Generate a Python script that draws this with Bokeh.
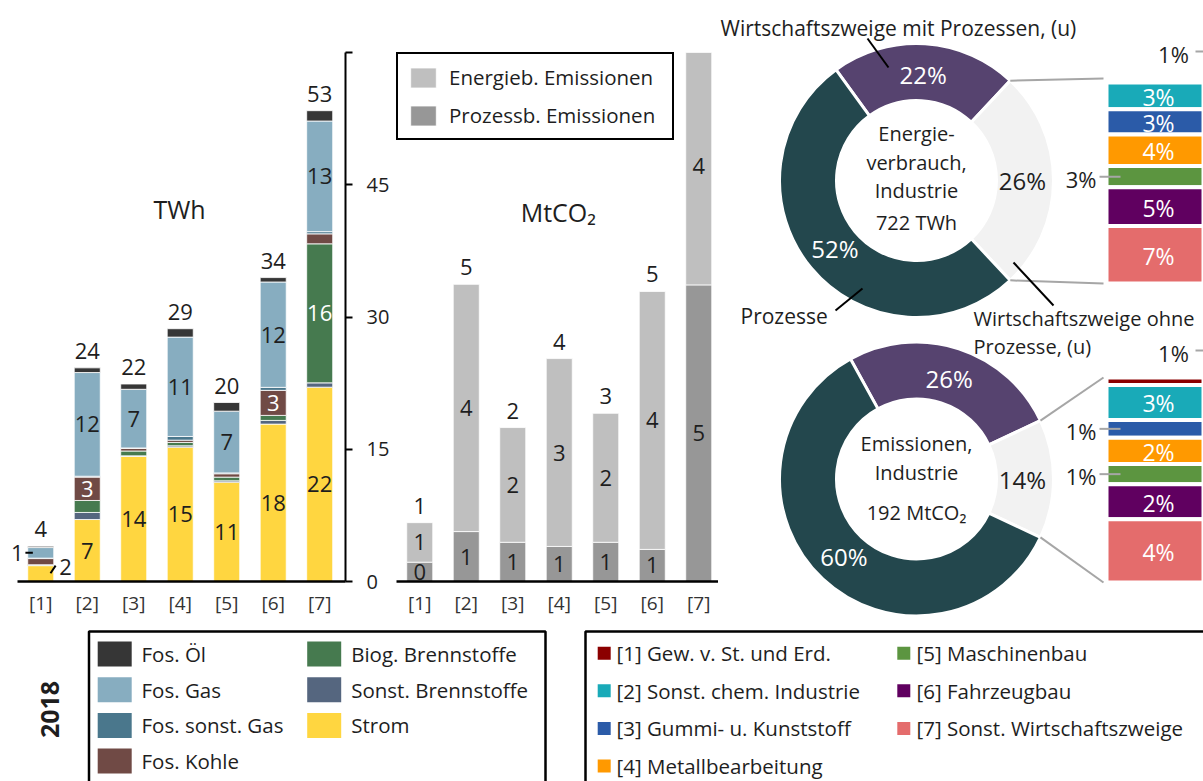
import numpy as np
from bokeh.plotting import figure
from bokeh.models import Range1d, FixedTicker, ColumnDataSource, Legend, LegendItem
from bokeh.layouts import row, column
from bokeh.embed import file_html
from bokeh.resources import INLINE
from bokeh.core.properties import value

FONT = "Open Sans"
TXT = "#1e1e1e"

# ---------------- data ----------------
branch_ticks = ["[1]", "[2]", "[3]", "[4]", "[5]", "[6]", "[7]"]

# Energy use per branch and carrier (TWh), stacked bottom -> top
strom = [1.8, 7.03, 14.2, 15.24, 11.27, 17.85, 22.04]
sonst_brennstoffe = [0.05, 0.8, 0.05, 0.15, 0.15, 0.42, 0.49]
biog_brennstoffe = [0.05, 1.36, 0.55, 0.38, 0.42, 0.57, 15.77]
fos_kohle = [0.7, 2.65, 0.3, 0.26, 0.38, 2.84, 1.13]
fos_sonst_gas = [0.05, 0.1, 0.05, 0.42, 0.1, 0.34, 0.25]
fos_gas = [1.2, 11.76, 6.65, 11.27, 7.0, 11.95, 12.55]
fos_oel = [0.15, 0.53, 0.6, 0.95, 0.98, 0.5, 1.17]

carrier_names = ["Strom", "Sonst. Brennstoffe", "Biog. Brennstoffe", "Fos. Kohle",
                 "Fos. sonst. Gas", "Fos. Gas", "Fos. Öl"]
carrier_values = [strom, sonst_brennstoffe, biog_brennstoffe, fos_kohle,
                  fos_sonst_gas, fos_gas, fos_oel]
carrier_legend_order = ["Fos. Öl", "Fos. Gas", "Fos. sonst. Gas", "Fos. Kohle",
                        "Biog. Brennstoffe", "Sonst. Brennstoffe", "Strom"]

# Emissions per branch (MtCO2)
prozess_emissionen = [0.325, 0.84, 0.66, 0.59, 0.66, 0.54, 4.99]
energie_emissionen = [0.665, 4.16, 1.93, 3.16, 2.17, 4.34, 4.0]
emission_total_labels = ["1", "5", "2", "4", "3", "5", "9"]

# Donuts: [mit Prozessen, ohne Prozesse, Prozesse]
donut_parts = ["Wirtschaftszweige mit Prozessen", "Wirtschaftszweige ohne Prozesse", "Prozesse"]
energy_shares = [22, 26, 52]
emission_shares = [26, 14, 60]

branch_names = ["[1] Gew. v. St. und Erd.", "[2] Sonst. chem. Industrie",
                "[3] Gummi- u. Kunststoff", "[4] Metallbearbeitung",
                "[5] Maschinenbau", "[6] Fahrzeugbau", "[7] Sonst. Wirtschaftszweige"]
energy_branch_shares = [0.5, 3.4, 3.2, 4.0, 2.7, 4.9, 7.3]
energy_branch_labels = ["1%", "3%", "3%", "4%", "3%", "5%", "7%"]
emission_branch_shares = [0.51, 2.39, 1.22, 1.8, 1.37, 2.39, 4.33]
emission_branch_labels = ["1%", "3%", "1%", "2%", "1%", "2%", "4%"]

# ---------------- styles ----------------
carrier_colors = ["#FFD640", "#55667F", "#467A4F", "#704A45", "#4A778C", "#87ADC0", "#363636"]
carrier_label_colors = [TXT, "white", "white", "white", "white", TXT, "white"]
co2_colors = {"energy": "#BFBFBF", "process": "#979797"}
donut_colors = ["#56436F", "#F2F2F2", "#23474D"]
donut_label_colors = ["white", TXT, "white"]
branch_colors = ["#8B0000", "#19AAB8", "#2B5BA8", "#FF9900", "#5C9540", "#600060", "#E46C6C"]
GREY_LINE = "#A6A6A6"
LEG_SIZE = 20.5
ANN_SIZE = 21

H_TOP = 622
xs = list(range(1, 8))
BAR_W = 0.56


def add_text(fig, x, y, texts, size, color=TXT, align="center", baseline="middle",
             x_offset=0, y_offset=0, style="normal", angle=0.0, y_range_name="default"):
    n = len(texts)
    cols = [color] * n if isinstance(color, str) else list(color)
    src = ColumnDataSource(dict(x=list(x), y=list(y), t=list(texts), c=cols))
    fig.text(x="x", y="y", text="t", source=src, text_color="c",
             text_font=value(FONT), text_font_size=f"{size}px", text_font_style=style,
             text_align=align, text_baseline=baseline, x_offset=x_offset,
             y_offset=y_offset, angle=angle, y_range_name=y_range_name)


def clean(fig):
    fig.xgrid.visible = False
    fig.ygrid.visible = False
    fig.outline_line_color = None
    fig.background_fill_color = "white"
    fig.border_fill_color = "white"
    fig.frame_align = False


def style_xaxis(ax, bounds):
    ax.ticker = FixedTicker(ticks=xs)
    ax.major_label_overrides = {i: t for i, t in zip(xs, branch_ticks)}
    ax.major_tick_in = 0
    ax.major_tick_out = 0
    ax.minor_tick_in = 0
    ax.minor_tick_out = 0
    ax.axis_line_color = "black"
    ax.axis_line_width = 2.5
    ax.bounds = bounds
    ax.major_label_text_font = FONT
    ax.major_label_text_font_size = "19px"
    ax.major_label_text_color = "#333333"
    ax.major_label_standoff = 8


# ---------------- Figure A: TWh ----------------
PX_A = 46.49
fa = figure(width=396, height=H_TOP, output_backend="svg", toolbar_location=None,
            x_range=Range1d(0.5 - 17 / PX_A, 7.555), y_range=Range1d(0, 60),
            y_axis_location="right",
            min_border_left=0, min_border_right=51, min_border_top=52, min_border_bottom=41)
clean(fa)
src_a = ColumnDataSource(dict(x=xs, **{f"c{i}": v for i, v in enumerate(carrier_values)}))
fa.vbar_stack([f"c{i}" for i in range(len(carrier_values))], x="x", width=BAR_W,
              fill_color=carrier_colors, line_color="white", line_width=0.8, source=src_a)
style_xaxis(fa.xaxis[0], (0.5, 7.555))
ya = fa.yaxis[0]
ya.ticker = FixedTicker(ticks=[0, 15, 30, 45, 60])
ya.major_label_overrides = {60: ""}
ya.major_tick_in = 0
ya.major_tick_out = 7
ya.major_tick_line_width = 2
ya.minor_tick_in = 0
ya.minor_tick_out = 0
ya.axis_line_width = 2
ya.axis_line_color = "black"
ya.major_tick_line_color = "black"
ya.major_label_text_font = FONT
ya.major_label_text_font_size = "20px"
ya.major_label_text_color = TXT
ya.major_label_standoff = 14

arr = np.array(carrier_values)
tops = np.cumsum(arr, axis=0)
mids = tops - arr / 2
lx, ly, lt, lc = [], [], [], []
for c in range(arr.shape[0]):
    for b in range(arr.shape[1]):
        if arr[c, b] >= 2.5:
            lx.append(xs[b]); ly.append(mids[c, b]); lt.append(str(int(round(arr[c, b]))))
            lc.append(carrier_label_colors[c])
add_text(fa, lx, ly, lt, 22, color=lc)
totals = tops[-1]
add_text(fa, xs, totals, [str(int(round(t))) for t in totals], 22, y_offset=-17)
# call-outs for the small first bar
gi, si = carrier_names.index("Fos. Gas"), carrier_names.index("Strom")
add_text(fa, [xs[0] - 0.37], [mids[gi, 0]], [str(int(round(arr[gi, 0])))], 22, align="right")
fa.segment(x0=[xs[0] - 0.33], y0=[mids[gi, 0]], x1=[xs[0] - 0.17], y1=[mids[gi, 0]],
           line_color="black", line_width=2)
add_text(fa, [xs[0] + 0.40], [tops[si, 0] - 0.2], [str(int(round(arr[si, 0])))], 22, align="left")
fa.segment(x0=[xs[0] + 0.21], y0=[tops[si, 0] * 0.52], x1=[xs[0] + 0.32], y1=[tops[si, 0]],
           line_color="black", line_width=2)
add_text(fa, [3.985], [42.3], ["TWh"], 25)

# ---------------- Figure B: MtCO2 ----------------
fb = figure(width=322, height=H_TOP, output_backend="svg", toolbar_location=None,
            x_range=Range1d(0.5, 7.425), y_range=Range1d(0, 8.9), y_axis_location=None,
            min_border_left=0, min_border_right=0, min_border_top=52, min_border_bottom=41)
clean(fb)
proc = np.array(prozess_emissionen)
ener = np.array(energie_emissionen)
tot = proc + ener
r_proc = fb.vbar(x=xs, width=BAR_W, bottom=0, top=proc, fill_color=co2_colors["process"],
                 line_color="white", line_width=0.8)
r_en = fb.vbar(x=xs, width=BAR_W, bottom=proc, top=tot, fill_color=co2_colors["energy"],
               line_color="white", line_width=0.8)
style_xaxis(fb.xaxis[0], (0.5, 7.425))
add_text(fb, xs, proc / 2, [str(int(round(v))) for v in proc], 22)
add_text(fb, xs, proc + ener / 2, [str(int(round(v))) for v in ener], 22)
vis = [i for i in range(7) if tot[i] < fb.y_range.end]
add_text(fb, [xs[i] for i in vis], [tot[i] for i in vis], [emission_total_labels[i] for i in vis],
         22, y_offset=-17)
add_text(fb, [3.98], [6.21], ["MtCO₂"], 25)
leg = Legend(items=[LegendItem(label="Energieb. Emissionen", renderers=[r_en]),
                    LegendItem(label="Prozessb. Emissionen", renderers=[r_proc])],
             location="top_left", margin=0, padding=9, spacing=10,
             glyph_width=32, glyph_height=25, label_standoff=10, label_height=25,
             label_width=214,
             label_text_font=FONT, label_text_font_size=f"{LEG_SIZE}px", label_text_color=TXT,
             border_line_color="black", border_line_width=2, border_line_alpha=1.0,
             background_fill_alpha=1)
fb.add_layout(leg)

# ---------------- Figure C: donuts ----------------
W_C = 485
X0 = 718
fc = figure(width=W_C, height=H_TOP, output_backend="svg", toolbar_location=None,
            x_range=Range1d(X0, X0 + W_C), y_range=Range1d(0, H_TOP),
            x_axis_location=None, y_axis_location=None, min_border=0)
clean(fc)


def yc(py):
    return H_TOP - py


R_IN, R_OUT = 80, 137
COL_X, COL_W = 1159, 106
donuts = [
    dict(shares=energy_shares, cx=916, cy=180,
         center=[("Energie-", 133), ("verbrauch,", 162), ("Industrie", 190), ("722 TWh", 222)],
         col_top=78, col_bot=283, bshares=energy_branch_shares, blabels=energy_branch_labels,
         rname="col_energy"),
    dict(shares=emission_shares, cx=916, cy=478.5,
         center=[("Emissionen,", 443), ("Industrie", 472), ("192 MtCO₂", 512)],
         col_top=377, col_bot=582, bshares=emission_branch_shares, blabels=emission_branch_labels,
         rname="col_emission"),
]
extra = {}
for d in donuts:
    T = sum(d["bshares"])
    fb_ = (H_TOP - d["col_bot"]) / H_TOP
    ft_ = (H_TOP - d["col_top"]) / H_TOP
    span = T / (ft_ - fb_)
    start = -fb_ * span
    extra[d["rname"]] = Range1d(start, start + span)
fc.extra_y_ranges = extra

for d in donuts:
    sh = np.array(d["shares"], dtype=float)
    deg = sh / sh.sum() * 360.0
    a0 = deg[1] / 2 + deg[0]
    ends = a0 - np.concatenate([[0], np.cumsum(deg)[:-1]])
    starts = ends - deg
    cx, cy = d["cx"], yc(d["cy"])
    fc.annular_wedge(x=[cx] * 3, y=[cy] * 3, inner_radius=R_IN, outer_radius=R_OUT,
                     start_angle=np.radians(starts), end_angle=np.radians(ends),
                     fill_color=donut_colors, line_color="white", line_width=3)
    mid = np.radians((starts + ends) / 2)
    add_text(fc, cx + 106 * np.cos(mid), cy + 106 * np.sin(mid),
             [f"{int(s)}%" for s in d["shares"]], 24, color=donut_label_colors)
    add_text(fc, [cx] * len(d["center"]), [yc(p) for _, p in d["center"]],
             [t for t, _ in d["center"]], 20)
    # connectors from grey segment to column
    g0, g1 = np.radians(starts[1]), np.radians(ends[1])
    fc.segment(x0=[cx + R_OUT * np.cos(g1), cx + R_OUT * np.cos(g0)],
               y0=[cy + R_OUT * np.sin(g1), cy + R_OUT * np.sin(g0)],
               x1=[1103, 1103], y1=[yc(d["col_top"]), yc(d["col_bot"])],
               line_color=GREY_LINE, line_width=2)
    # column of branches
    bs = np.array(d["bshares"], dtype=float)
    T = bs.sum()
    btops = T - np.concatenate([[0], np.cumsum(bs)[:-1]])
    bbots = btops - bs
    bmids = (btops + bbots) / 2
    ppu = (d["col_bot"] - d["col_top"]) / T
    fc.vbar(x=[COL_X] * len(bs), width=COL_W, bottom=bbots, top=btops,
            fill_color=branch_colors, line_color="white", line_width=4, y_range_name=d["rname"])
    ins = [i for i in range(1, len(bs)) if bs[i] * ppu >= 23]
    outs = [i for i in range(1, len(bs)) if bs[i] * ppu < 23]
    add_text(fc, [1158] * len(ins), [bmids[i] for i in ins], [d["blabels"][i] for i in ins],
             23, color="white", y_offset=1, y_range_name=d["rname"])
    add_text(fc, [1096] * len(outs), [bmids[i] for i in outs], [d["blabels"][i] for i in outs],
             22, align="right", y_offset=2, y_range_name=d["rname"])
    fc.segment(x0=[1099] * len(outs), y0=[bmids[i] for i in outs], x1=[1120] * len(outs),
               y1=[bmids[i] for i in outs], line_color=GREY_LINE, line_width=2,
               y_range_name=d["rname"])
    add_text(fc, [1173], [T], [d["blabels"][0]], 22, y_offset=-25, y_range_name=d["rname"])
    fc.segment(x0=[1195], y0=[T + 27 / ppu], x1=[1212], y1=[T + 27 / ppu],
               line_color=GREY_LINE, line_width=2, y_range_name=d["rname"])

# annotations
add_text(fc, [720], [yc(27)], ["Wirtschaftszweige mit Prozessen, (u)"], ANN_SIZE, align="left")
add_text(fc, [740], [yc(315)], ["Prozesse"], ANN_SIZE, align="left")
add_text(fc, [973, 973], [yc(318), yc(346)], ["Wirtschaftszweige ohne", "Prozesse, (u)"],
         20, align="left")
fc.segment(x0=[867, 835, 1013], y0=[yc(38), yc(310), yc(262)],
           x1=[888, 862, 1053], y1=[yc(67), yc(288), yc(305)], line_color="black", line_width=2)

# ---------------- Figure D: legends ----------------
H_D = 781 - H_TOP
fd = figure(width=1203, height=H_D, output_backend="svg", toolbar_location=None,
            x_range=Range1d(0, 1203), y_range=Range1d(0, H_D),
            x_axis_location=None, y_axis_location=None, min_border=0)
clean(fd)


def yd(py):
    return 781 - py


fd.quad(left=[88.5, 585], right=[545, 1220], top=[yd(631)] * 2, bottom=[yd(800)] * 2,
        fill_color=None, line_color="black", line_width=2.5)
add_text(fd, [49], [yd(709)], ["2018"], 25, style="bold", angle=np.pi / 2)

lcol = [carrier_colors[carrier_names.index(n)] for n in carrier_legend_order]
sx = [114.2 if i < 4 else 323.7 for i in range(len(carrier_legend_order))]
sy = [yd(653.5 + (i % 4) * 35.7) for i in range(len(carrier_legend_order))]
fd.rect(x=sx, y=sy, width=34, height=25, fill_color=lcol, line_color=None)
add_text(fd, [141 if i < 4 else 350.7 for i in range(len(carrier_legend_order))], sy,
         carrier_legend_order, LEG_SIZE, align="left")

bx = [603.7 if i < 4 else 903.3 for i in range(len(branch_names))]
by = [yd(652.7 + (i % 4) * 37.6) for i in range(len(branch_names))]
fd.rect(x=bx, y=by, width=13, height=13, fill_color=branch_colors, line_color=None)
add_text(fd, [616 if i < 4 else 916 for i in range(len(branch_names))], by,
         branch_names, LEG_SIZE, align="left")

layout = column(row(fa, fb, fc, spacing=0), fd, spacing=0)
open("out.html", "w").write(file_html(layout, INLINE))
